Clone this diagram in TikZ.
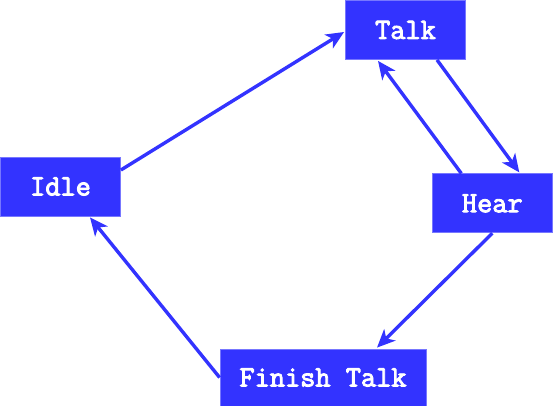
\documentclass[tikz,border=0pt]{standalone}
\usepackage{fontspec}
\newfontfamily\statefont[FakeBold=3]{Latin Modern Mono}
\usetikzlibrary{arrows.meta}
\definecolor{boxblue}{HTML}{3333FF}
\definecolor{boxedge}{HTML}{7777FF}
\begin{document}
\begin{tikzpicture}[x=1pt,y=-1pt,
  state/.style={draw=boxedge,line width=0.8pt,fill=boxblue,text=white,inner sep=0pt,
    minimum height=59pt,font=\fontsize{29.5}{31}\statefont},
  conn/.style={boxblue,line width=3.4pt,-{Stealth[length=18pt,width=16pt,inset=5pt]}}]
\useasboundingbox (0,0) rectangle (553,406);
\node[state,minimum width=120pt] (talk) at (405.5,30) {Talk};
\node[state,minimum width=120pt] (idle) at (60.5,186.5) {Idle};
\node[state,minimum width=120pt] (hear) at (492.3,203.3) {Hear};
\node[state,minimum width=206pt,minimum height=57pt] (fin) at (323,377.5) {Finish Talk};
\draw[conn] ([yshift=16.5pt]idle.east) -- ([yshift=-2pt,xshift=-1pt]talk.west);
\draw[conn] ([xshift=31.5pt]talk.south) -- ([xshift=27pt,yshift=1pt]hear.north);
\draw[conn] ([xshift=-31pt]hear.north) -- ([xshift=-27.5pt,yshift=-1pt]talk.south);
\draw[conn] (hear.south) -- ([xshift=54pt,yshift=1pt]fin.north);
\draw[conn] (fin.west) -- ([xshift=29.5pt,yshift=-1pt]idle.south);
\end{tikzpicture}
\end{document}
